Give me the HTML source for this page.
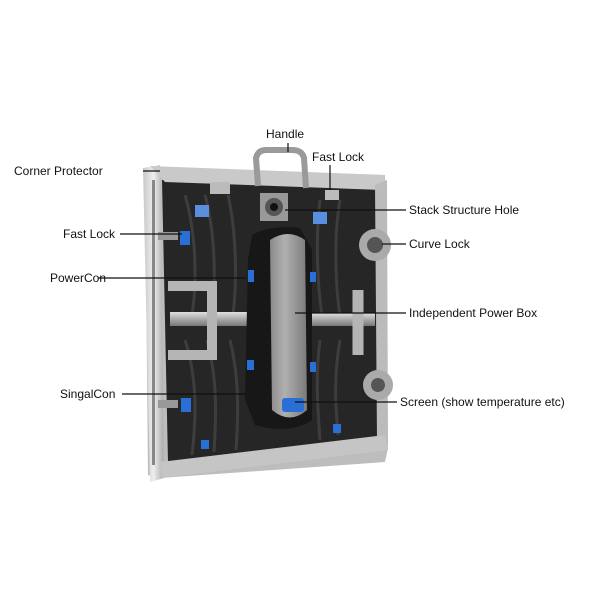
<!DOCTYPE html>
<html><head><meta charset="utf-8"><style>
html,body{margin:0;padding:0;background:#fff;}
svg{display:block;}
text{font-family:"Liberation Sans",sans-serif;font-size:12px;fill:#111;}
</style></head><body>
<svg width="600" height="600" viewBox="0 0 600 600" xmlns="http://www.w3.org/2000/svg">
<defs>
<linearGradient id="box" x1="0" x2="1"><stop offset="0" stop-color="#8a8a8a"/><stop offset="0.4" stop-color="#b0b0b0"/><stop offset="1" stop-color="#7a7a7a"/></linearGradient>
<linearGradient id="silver" x1="0" x2="1"><stop offset="0" stop-color="#c8c8c8"/><stop offset="0.5" stop-color="#eee"/><stop offset="1" stop-color="#aaa"/></linearGradient>
<linearGradient id="bar" x1="0" x2="0" y1="0" y2="1"><stop offset="0" stop-color="#e0e0e0"/><stop offset="0.5" stop-color="#aaa"/><stop offset="1" stop-color="#777"/></linearGradient>
</defs>
<!-- frame outer -->
<polygon points="145,168 385,175 388,448 385,462 160,478 148,475" fill="#bdbdbd"/>
<!-- interior dark -->
<polygon points="162,180 378,188 378,440 168,462" fill="#262626"/>
<!-- ribs -->
<g stroke="#3d3d3d" stroke-width="3" fill="none">
<path d="M185,195 C198,240 196,290 192,315"/><path d="M205,195 C217,240 215,290 212,315"/>
<path d="M228,195 C238,240 236,290 233,315"/>
<path d="M185,340 C198,380 196,420 192,455"/><path d="M207,340 C218,380 216,420 214,452"/>
<path d="M230,340 C240,380 238,420 236,450"/>
<path d="M320,200 C315,240 318,290 322,315"/><path d="M340,200 C333,240 336,290 340,315"/>
<path d="M320,340 C315,380 318,410 320,440"/><path d="M340,340 C333,380 336,410 338,435"/>
</g>
<!-- left frame -->
<polygon points="143,168 160,165 164,478 150,482" fill="url(#silver)"/>
<rect x="152" y="180" width="3" height="285" fill="#888"/>
<!-- top frame -->
<polygon points="150,166 385,175 383,190 165,182" fill="#c9c9c9"/>
<!-- right frame -->
<polygon points="375,185 387,180 388,445 377,440" fill="#bbb"/>
<!-- bottom frame -->
<polygon points="160,462 385,435 388,450 162,478" fill="#c5c5c5"/>
<!-- horizontal bars -->
<rect x="170" y="312" width="90" height="14" fill="url(#bar)"/>
<rect x="305" y="313" width="70" height="13" fill="url(#bar)"/>
<path d="M168,286 L212,286 L212,355 L168,355" stroke="#b5b5b5" stroke-width="10" fill="none"/>
<path d="M358,290 L358,355" stroke="#b5b5b5" stroke-width="11" fill="none"/>
<!-- handle -->
<path d="M258,186 L256,158 Q258,150 266,150 L292,150 Q302,150 304,158 L306,188" stroke="#9a9a9a" stroke-width="6" fill="none"/>
<!-- stack hole -->
<rect x="260" y="193" width="28" height="28" fill="#999"/><circle cx="274" cy="207" r="9" fill="#555"/><circle cx="274" cy="207" r="4" fill="#111"/>
<!-- power box shell -->
<path d="M252,235 Q270,225 300,228 L312,250 L312,420 Q290,435 255,425 L245,400 L248,260 Z" fill="#171717"/>
<!-- power box inner -->
<path d="M270,240 Q288,228 305,240 L307,410 Q290,425 272,410 Z" fill="url(#box)"/>
<rect x="282" y="398" width="22" height="14" rx="3" fill="#2a6fd6"/>
<!-- curve locks -->
<circle cx="375" cy="245" r="16" fill="#aaa"/><circle cx="375" cy="245" r="8" fill="#555"/>
<circle cx="378" cy="385" r="15" fill="#aaa"/><circle cx="378" cy="385" r="7" fill="#555"/>
<!-- fast lock top -->
<rect x="210" y="182" width="20" height="12" fill="#bbb"/><rect x="325" y="190" width="14" height="10" fill="#bbb"/>
<g fill="#5a8fe0">
<rect x="195" y="205" width="14" height="12"/><rect x="313" y="212" width="14" height="12"/>
</g>
<g fill="#2a6fd6">
<rect x="180" y="231" width="10" height="14"/><rect x="181" y="398" width="10" height="14"/>
<rect x="248" y="270" width="6" height="12"/><rect x="310" y="272" width="6" height="10"/>
<rect x="247" y="360" width="7" height="10"/><rect x="310" y="362" width="6" height="10"/>
<rect x="201" y="440" width="8" height="9"/><rect x="333" y="424" width="8" height="9"/>
</g>
<g fill="#999"><rect x="158" y="232" width="20" height="8"/><rect x="158" y="400" width="20" height="8"/></g>
<!-- leader lines -->
<g stroke="#111" stroke-width="1.2">
<line x1="288" y1="143" x2="288" y2="152"/>
<line x1="330" y1="165" x2="330" y2="190"/>
<line x1="143" y1="171" x2="160" y2="171"/>
<line x1="285" y1="210" x2="406" y2="210"/>
<line x1="120" y1="234" x2="182" y2="234"/>
<line x1="382" y1="244" x2="406" y2="244"/>
<line x1="98" y1="278" x2="246" y2="278"/>
<line x1="295" y1="313" x2="406" y2="313"/>
<line x1="122" y1="394" x2="246" y2="394"/>
<line x1="295" y1="402" x2="397" y2="402"/>
</g>
<text x="266" y="138">Handle</text>
<text x="312" y="161">Fast Lock</text>
<text x="14" y="175">Corner Protector</text>
<text x="409" y="214">Stack Structure Hole</text>
<text x="63" y="238">Fast Lock</text>
<text x="409" y="248">Curve Lock</text>
<text x="50" y="282">PowerCon</text>
<text x="409" y="317">Independent Power Box</text>
<text x="60" y="398">SingalCon</text>
<text x="400" y="406">Screen (show temperature etc)</text>
</svg>
</body></html>
